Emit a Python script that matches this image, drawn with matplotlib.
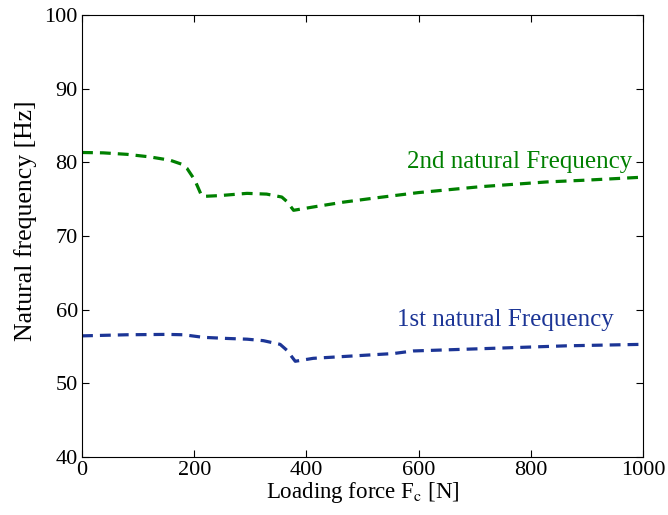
import numpy as np
import matplotlib
matplotlib.use("Agg")
import matplotlib.pyplot as plt

plt.rcParams['font.family'] = ['Liberation Serif', 'DejaVu Serif']
plt.rcParams['mathtext.fontset'] = 'stix'

# %% data
force2 = [0, 38, 80, 121, 157, 178, 187, 201, 213, 219, 246, 294, 329, 356, 365, 377,
          412, 465, 525, 599, 709, 828, 900, 1000]
freq2 = [81.35, 81.3, 81.1, 80.75, 80.3, 79.75, 79.2, 77.6, 75.5, 75.4, 75.5, 75.8, 75.7,
         75.3, 74.7, 73.5, 73.95, 74.6, 75.2, 75.9, 76.7, 77.35, 77.6, 78.0]

force1 = [0, 80, 151, 181, 216, 258, 294, 323, 353, 365, 380, 412, 478, 555, 590, 709,
          864, 1000]
freq1 = [56.45, 56.6, 56.65, 56.6, 56.25, 56.1, 56.0, 55.8, 55.3, 54.5, 53.0, 53.4,
         53.7, 54.05, 54.4, 54.7, 55.1, 55.3]

green = '#008000'
blue = '#1c3596'

# %% plot
fig = plt.figure(figsize=(6.68, 5.15), dpi=100)
ax = fig.add_axes([0.1228, 0.1126, 0.84, 0.858])

ax.plot(force2, freq2, color=green, lw=2.3, dashes=(3.4, 2.2))
ax.plot(force1, freq1, color=blue, lw=2.3, dashes=(3.4, 2.2))

ax.text(780, 80.0, '2nd natural Frequency', color=green, fontsize=18, ha='center', va='center')
ax.text(755, 58.6, '1st natural Frequency', color=blue, fontsize=18, ha='center', va='center')

ax.set_xlim(0, 1000)
ax.set_ylim(40, 100)
ax.set_xticks(np.arange(0, 1001, 200))
ax.set_yticks(np.arange(40, 101, 10))
ax.tick_params(direction='in', top=True, right=True, labelsize=16, length=5, pad=3)
ax.set_xlabel(r'Loading force F$_\mathrm{c}$ [N]', fontsize=16.5, labelpad=0)
ax.set_ylabel('Natural frequency [Hz]', fontsize=18.5)
ax.yaxis.set_label_coords(-0.081, 0.535)

fig.savefig('out.png', dpi=100)
